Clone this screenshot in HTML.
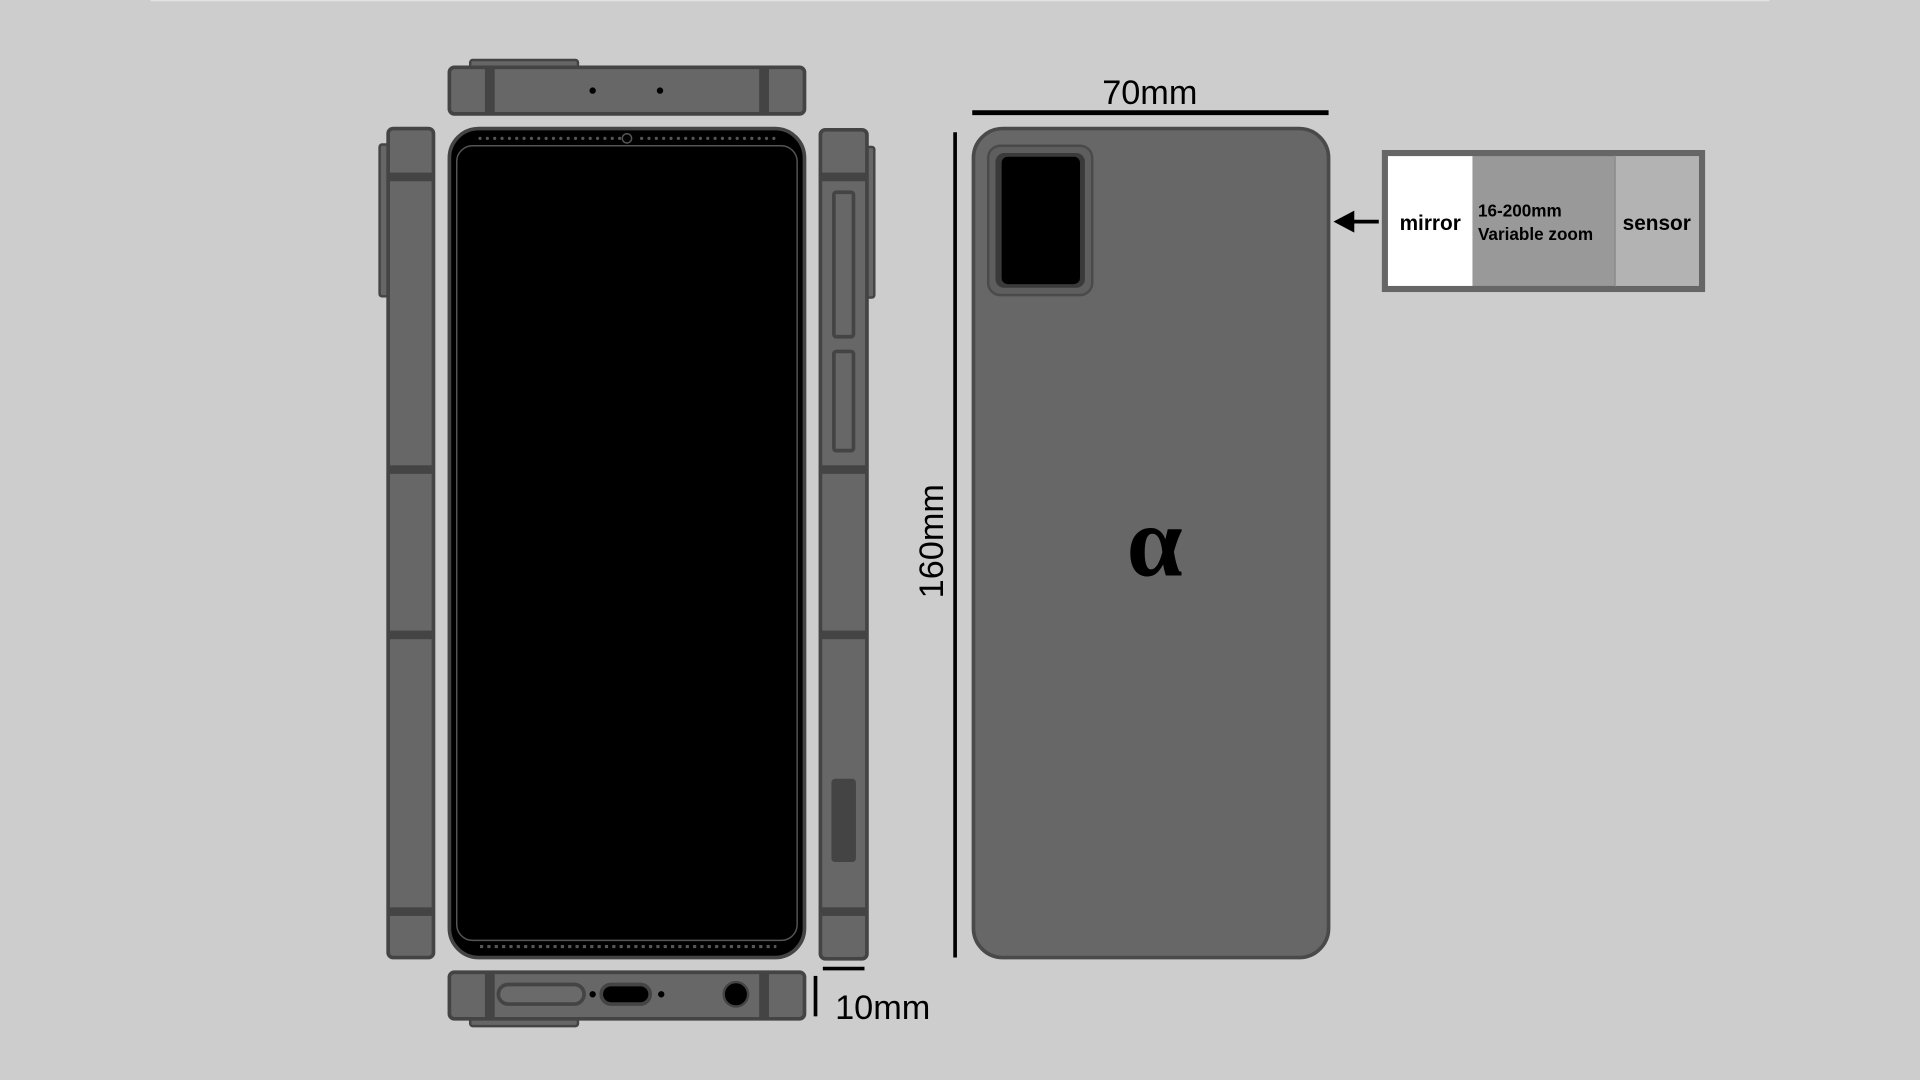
<!DOCTYPE html>
<html><head><meta charset="utf-8"><style>
html,body{margin:0;padding:0;background:#cdcdcd;}
svg{display:block}
text{font-family:"Liberation Sans",sans-serif;}
</style></head><body>
<svg width="1920" height="1080" viewBox="0 0 1568 882" xmlns="http://www.w3.org/2000/svg">
<rect width="1568" height="882" fill="#cdcdcd"/>
<line x1="123" y1="0.5" x2="1445" y2="0.5" stroke="#e2e2e2" stroke-width="1"/>

<!-- top bar -->
<rect x="384" y="49" width="88" height="10" rx="2" fill="#666" stroke="#444" stroke-width="2"/>
<rect x="367" y="55" width="290" height="38" rx="4" fill="#676767" stroke="#444" stroke-width="3"/>
<rect x="396" y="56" width="8" height="36" fill="#444"/>
<rect x="620" y="56" width="8" height="36" fill="#444"/>
<circle cx="484" cy="74" r="2.6" fill="#000"/>
<circle cx="539" cy="74" r="2.6" fill="#000"/>

<!-- left side -->
<rect x="310" y="118" width="8" height="124" rx="2" fill="#666" stroke="#444" stroke-width="2"/>
<rect x="317" y="105" width="37" height="677" rx="4" fill="#676767" stroke="#444" stroke-width="3"/>
<g fill="#444"><rect x="318" y="141" width="35" height="7"/><rect x="318" y="380" width="35" height="7"/><rect x="318" y="515" width="35" height="7"/><rect x="318" y="741" width="35" height="7"/></g>

<!-- right side -->
<rect x="706" y="120" width="8" height="123" rx="2" fill="#666" stroke="#444" stroke-width="2"/>
<rect x="670" y="106" width="38" height="677" rx="4" fill="#676767" stroke="#444" stroke-width="3"/>
<g fill="#444"><rect x="671" y="141" width="36" height="7"/><rect x="671" y="380" width="36" height="7"/><rect x="671" y="515" width="36" height="7"/><rect x="671" y="741" width="36" height="7"/></g>
<rect x="681" y="157" width="16" height="118" rx="2" fill="#676767" stroke="#444" stroke-width="3"/>
<rect x="681" y="287" width="16" height="81" rx="2" fill="#676767" stroke="#444" stroke-width="3"/>
<rect x="679" y="636" width="20" height="68" rx="3" fill="#444"/>

<!-- front -->
<rect x="367" y="105" width="290" height="677" rx="24" fill="#000" stroke="#444" stroke-width="3"/>
<rect x="373" y="119" width="278" height="649" rx="13" fill="none" stroke="#555" stroke-width="1.2"/>
<g fill="#555">
<circle cx="392" cy="113" r="1.3"/><circle cx="398" cy="113" r="1.3"/><circle cx="404" cy="113" r="1.3"/><circle cx="410" cy="113" r="1.3"/><circle cx="416" cy="113" r="1.3"/><circle cx="422" cy="113" r="1.3"/><circle cx="428" cy="113" r="1.3"/><circle cx="434" cy="113" r="1.3"/><circle cx="440" cy="113" r="1.3"/><circle cx="446" cy="113" r="1.3"/><circle cx="452" cy="113" r="1.3"/><circle cx="458" cy="113" r="1.3"/><circle cx="464" cy="113" r="1.3"/><circle cx="470" cy="113" r="1.3"/><circle cx="476" cy="113" r="1.3"/><circle cx="482" cy="113" r="1.3"/><circle cx="488" cy="113" r="1.3"/><circle cx="494" cy="113" r="1.3"/><circle cx="500" cy="113" r="1.3"/><circle cx="506" cy="113" r="1.3"/>
<circle cx="524" cy="113" r="1.3"/><circle cx="530" cy="113" r="1.3"/><circle cx="536" cy="113" r="1.3"/><circle cx="542" cy="113" r="1.3"/><circle cx="548" cy="113" r="1.3"/><circle cx="554" cy="113" r="1.3"/><circle cx="560" cy="113" r="1.3"/><circle cx="566" cy="113" r="1.3"/><circle cx="572" cy="113" r="1.3"/><circle cx="578" cy="113" r="1.3"/><circle cx="584" cy="113" r="1.3"/><circle cx="590" cy="113" r="1.3"/><circle cx="596" cy="113" r="1.3"/><circle cx="602" cy="113" r="1.3"/><circle cx="608" cy="113" r="1.3"/><circle cx="614" cy="113" r="1.3"/><circle cx="620" cy="113" r="1.3"/><circle cx="626" cy="113" r="1.3"/><circle cx="632" cy="113" r="1.3"/>
</g>
<circle cx="512" cy="113" r="3.8" fill="none" stroke="#555" stroke-width="1.2"/>
<line x1="392" y1="773" x2="634" y2="773" stroke="#555" stroke-width="2.6" stroke-dasharray="2.6 3.4" stroke-linecap="butt"/>

<!-- bottom bar -->
<rect x="384" y="828" width="88" height="10" rx="2" fill="#666" stroke="#444" stroke-width="2"/>
<rect x="367" y="794" width="290" height="38" rx="4" fill="#676767" stroke="#444" stroke-width="3"/>
<rect x="396" y="795" width="8" height="36" fill="#444"/>
<rect x="620" y="795" width="8" height="36" fill="#444"/>
<rect x="407" y="804" width="70" height="16" rx="8" fill="#6a6a6a" stroke="#444" stroke-width="3"/>
<circle cx="484" cy="812" r="2.6" fill="#000"/>
<rect x="491" y="804" width="40" height="16" rx="8" fill="#000" stroke="#444" stroke-width="3"/>
<circle cx="540" cy="812" r="2.6" fill="#000"/>
<circle cx="601" cy="812" r="10" fill="#000" stroke="#444" stroke-width="2"/>

<!-- 10mm -->
<line x1="666" y1="797" x2="666" y2="830" stroke="#000" stroke-width="3"/>
<line x1="672" y1="791" x2="706" y2="791" stroke="#000" stroke-width="3"/>
<text x="682" y="832" font-size="28" fill="#000">10mm</text>

<!-- back -->
<line x1="794" y1="92" x2="1085" y2="92" stroke="#000" stroke-width="4"/>
<text x="939" y="85" font-size="28" text-anchor="middle" fill="#000">70mm</text>
<line x1="780" y1="108" x2="780" y2="782" stroke="#000" stroke-width="3"/>
<text transform="translate(770,442) rotate(-90)" font-size="28" text-anchor="middle" fill="#000">160mm</text>
<rect x="795" y="105" width="290" height="677" rx="24" fill="#676767" stroke="#4a4a4a" stroke-width="3"/>
<rect x="807" y="119" width="85" height="122" rx="10" fill="#5e5e5e" stroke="#4a4a4a" stroke-width="2"/>
<rect x="813" y="125" width="73" height="110" rx="7" fill="#3a3a3a"/>
<rect x="818" y="128" width="64" height="104" rx="5" fill="#000"/>
<text x="943" y="470" font-size="82" font-weight="bold" text-anchor="middle" font-family="Liberation Serif, serif" fill="#000" style="font-family:'Liberation Serif',serif">α</text>

<!-- box -->
<rect x="1131" y="125" width="259" height="111" fill="#999" stroke="#666" stroke-width="5"/>
<rect x="1133.5" y="127.5" width="69" height="106" fill="#fff"/>
<rect x="1319" y="127.5" width="68.5" height="106" fill="#b3b3b3"/>
<line x1="1319" y1="127" x2="1319" y2="234" stroke="#888" stroke-width="1"/>
<text x="1168" y="188" font-size="17" font-weight="bold" text-anchor="middle" fill="#000">mirror</text>
<text x="1207" y="177" font-size="14" font-weight="bold" fill="#000">16-200mm</text>
<text x="1207" y="196" font-size="14" font-weight="bold" fill="#000">Variable zoom</text>
<text x="1353" y="188" font-size="17" font-weight="bold" text-anchor="middle" fill="#000">sensor</text>
<line x1="1102" y1="181" x2="1126" y2="181" stroke="#000" stroke-width="3"/>
<polygon points="1089,181 1106,172 1106,190" fill="#000"/>
</svg>
</body></html>
